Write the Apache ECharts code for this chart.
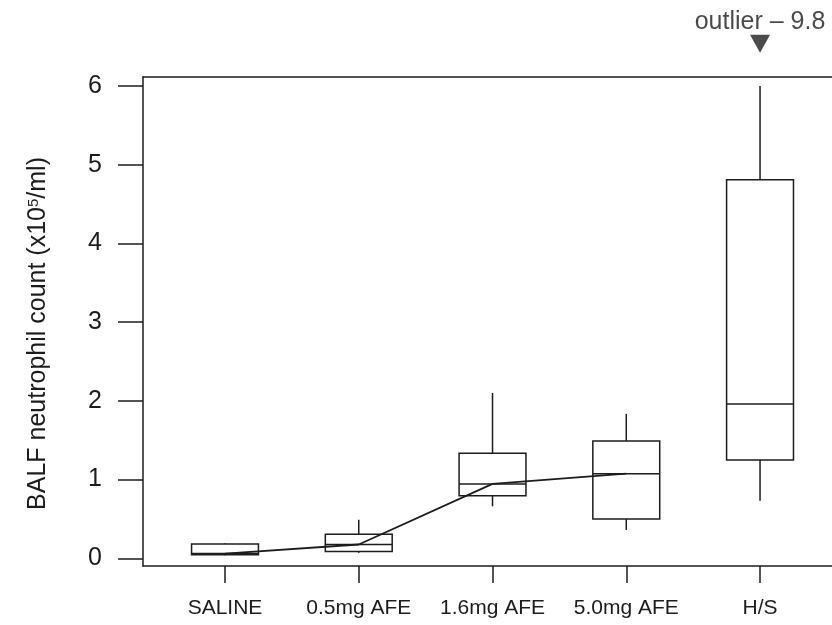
<!DOCTYPE html>
<html>
<head>
<meta charset="utf-8">
<script src="https://cdn.jsdelivr.net/npm/echarts@6/dist/echarts.min.js"></script>
<style>
html,body{margin:0;padding:0;background:#fff;}
#chart{width:832px;height:625px;}
</style>
</head>
<body>
<div id="chart"></div>
<script>
// ---- data ----
const groups = ['SALINE', '0.5mg AFE', '1.6mg AFE', '5.0mg AFE', 'H/S'];
const groupPos = [1, 2, 3, 4, 5];
const mins    = [0.04, 0.07, 0.66, 0.36, 0.73];
const q1s     = [0.045, 0.085, 0.795, 0.50, 1.25];
const medians = [0.06, 0.175, 0.945, 1.075, 1.96];
const q3s     = [0.18, 0.305, 1.335, 1.49, 4.81];
const maxs    = [0.19, 0.49, 2.10, 1.835, 6.00];
const trendGroups = [0, 1, 2, 3]; // medians joined by the line
const yTicks = [0, 1, 2, 3, 4, 5, 6];
const outlierValue = 9.8;
const outlierMarkerY = 6.535; // marker drawn above the axis top
const yName = 'BALF neutrophil count (x10{sup|5}/ml)';

// ---- build ----
const boxData = groupPos.map((p, i) => [p, mins[i], q1s[i], medians[i], q3s[i], maxs[i]]);
const lineData = trendGroups.map(i => [groupPos[i], medians[i]]);

const FONT = "'Liberation Sans', Arial, sans-serif";
const INK = '#1c1c1c';
const BOX_W = 0.5;

const xMin = 0.387, xMax = 5.538;

const chart = echarts.init(document.getElementById('chart'), null, {renderer: 'canvas'});
chart.setOption({
  animation: false,
  backgroundColor: '#fff',
  textStyle: {fontFamily: FONT},
  grid: {left: 143, right: 0, top: 77, bottom: 59, containLabel: false},
  xAxis: [{
    type: 'value', min: xMin, max: xMax, position: 'bottom',
    axisLine: {show: true, onZero: false, lineStyle: {color: INK, width: 1.5}},
    axisTick: {show: true, length: 17, customValues: groupPos, lineStyle: {color: INK, width: 1.5}},
    axisLabel: {
      customValues: groupPos, margin: 32, fontSize: 21, color: INK, fontFamily: FONT,
      formatter: v => groups[Math.round(v) - 1] || ''
    },
    splitLine: {show: false}
  }, {
    type: 'value', min: xMin, max: xMax, position: 'top',
    axisLine: {show: true, onZero: false, lineStyle: {color: INK, width: 1.5}},
    axisTick: {show: false}, axisLabel: {show: false}, splitLine: {show: false}
  }],
  yAxis: {
    type: 'value', min: -0.098, max: 6.114,
    name: yName, nameLocation: 'middle', nameGap: 92,
    nameTextStyle: {
      fontSize: 25, color: INK, fontFamily: FONT, padding: [0, 24, 0, 0],
      rich: {sup: {fontSize: 15, verticalAlign: 'top', color: INK, fontFamily: FONT, padding: [0, 0, 10, 0]}}
    },
    axisLine: {show: true, onZero: false, lineStyle: {color: INK, width: 1.5}},
    axisTick: {show: true, length: 25, customValues: yTicks, lineStyle: {color: INK, width: 1.5}},
    axisLabel: {customValues: yTicks, margin: 41, fontSize: 25, color: INK, fontFamily: FONT},
    splitLine: {show: false}
  },
  series: [{
    type: 'custom',
    data: boxData,
    renderItem: (params, api) => {
      const x = api.value(0);
      const lo = api.coord([x, api.value(1)]);
      const q1 = api.coord([x, api.value(2)]);
      const md = api.coord([x, api.value(3)]);
      const q3 = api.coord([x, api.value(4)]);
      const hi = api.coord([x, api.value(5)]);
      const w = api.size([BOX_W, 0])[0];
      const cx = lo[0];
      const st = {stroke: INK, lineWidth: 1.5, fill: null};
      return {
        type: 'group',
        children: [
          {type: 'line', shape: {x1: cx, y1: q1[1], x2: cx, y2: lo[1]}, style: st},
          {type: 'line', shape: {x1: cx, y1: q3[1], x2: cx, y2: hi[1]}, style: st},
          {type: 'rect', shape: {x: cx - w / 2, y: q3[1], width: w, height: q1[1] - q3[1]},
            style: {stroke: INK, lineWidth: 1.5, fill: '#fff'}},
          {type: 'line', shape: {x1: cx - w / 2, y1: md[1], x2: cx + w / 2, y2: md[1]}, style: st}
        ]
      };
    },
    z: 2
  }, {
    type: 'line',
    data: lineData,
    symbol: 'none',
    lineStyle: {color: INK, width: 1.8},
    z: 3
  }, {
    type: 'scatter',
    clip: false,
    data: [[groupPos[4], outlierMarkerY]],
    symbol: 'triangle',
    symbolRotate: 180,
    symbolSize: [20, 18],
    itemStyle: {color: '#1e1e1e'},
    label: {
      show: true, position: 'top', distance: 0,
      formatter: () => 'outlier \u2013 ' + outlierValue,
      fontSize: 25, color: INK, fontFamily: FONT
    },
    z: 4
  }]
});
</script>
</body>
</html>
